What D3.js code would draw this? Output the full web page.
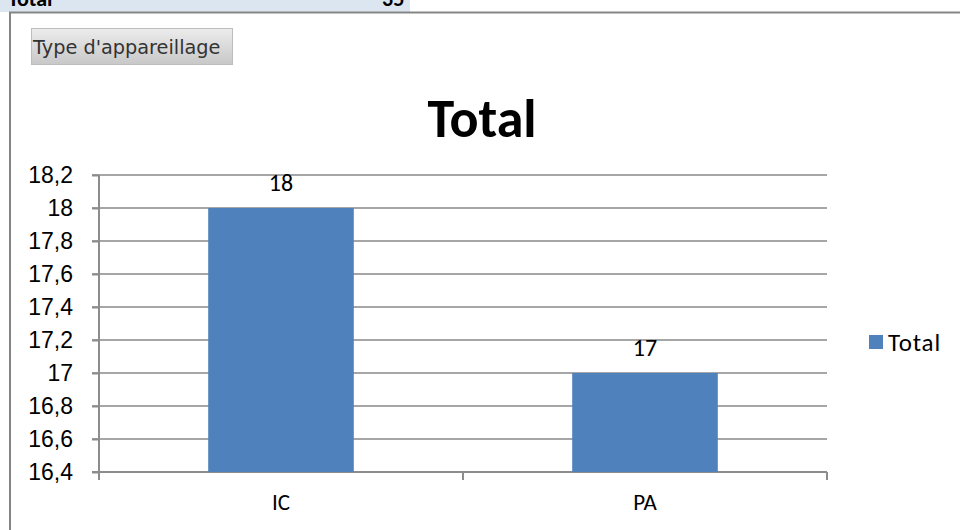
<!DOCTYPE html>
<html>
<head>
<meta charset="utf-8">
<script src="https://cdn.jsdelivr.net/npm/d3@7"></script>
<style>
  body { margin: 0; background: #fff; }
  svg { display: block; font-family: Carlito, Lato, "Liberation Sans", sans-serif; }
  .axis path, .axis line { stroke: #8c8c8c; }
  .grid line { stroke: #a6a6a6; }
</style>
</head>
<body>
<svg class="chart" width="960" height="530"></svg>
<script>
var categories = ["IC", "PA"];
var values = [18, 17];
var yTicks = [16.4, 16.6, 16.8, 17, 17.2, 17.4, 17.6, 17.8, 18, 18.2];
var seriesName = "Total";
var headerLabel = "Total";
var headerValue = "35";
var buttonLabel = "Type d'appareillage";

var svg = d3.select("svg.chart"),
    margin = {top: 175, right: 133, bottom: 58, left: 99},
    width = 960 - margin.left - margin.right,
    height = 530 - margin.top - margin.bottom;

// pivot table header strip (cut at the top, as in the sheet)
svg.append("rect")
    .attr("x", 0).attr("y", 0)
    .attr("width", 410).attr("height", 12)
    .attr("fill", "#dce6f1");
svg.append("text")
    .attr("x", 8).attr("y", 6)
    .style("font-weight", "bold")
    .style("font-size", "22px")
    .text(headerLabel);
svg.append("text")
    .attr("x", 382).attr("y", 6)
    .style("font-weight", "bold")
    .style("font-size", "22px")
    .text(headerValue);

// chart area border
svg.append("line")
    .attr("x1", 9).attr("x2", 960).attr("y1", 12.5).attr("y2", 12.5)
    .attr("stroke", "#858585").attr("stroke-width", 2);
svg.append("line")
    .attr("x1", 10).attr("x2", 10).attr("y1", 12).attr("y2", 530)
    .attr("stroke", "#858585").attr("stroke-width", 2);

// field button
var grad = svg.append("defs").append("linearGradient")
    .attr("id", "btn").attr("x1", 0).attr("x2", 0).attr("y1", 0).attr("y2", 1);
grad.append("stop").attr("offset", "0%").attr("stop-color", "#ececec");
grad.append("stop").attr("offset", "100%").attr("stop-color", "#c8c8c8");
svg.append("rect")
    .attr("x", 31.5).attr("y", 28.5)
    .attr("width", 201).attr("height", 36)
    .attr("fill", "url(#btn)")
    .attr("stroke", "#bdbdbd");
svg.append("text")
    .attr("x", 33).attr("y", 47)
    .attr("dy", "0.35em")
    .style("font-family", "'DejaVu Sans', sans-serif")
    .style("font-size", "19.3px")
    .attr("fill", "#333")
    .text(buttonLabel);

// title
svg.append("text")
    .attr("x", 482).attr("y", 118)
    .attr("text-anchor", "middle")
    .attr("dy", "0.35em")
    .style("font-weight", "bold")
    .style("font-size", "54px")
    .text(seriesName);

var g = svg.append("g").attr("transform", "translate(" + margin.left + "," + margin.top + ")");

var x = d3.scaleBand()
    .domain(categories)
    .range([0, width])
    .paddingInner(0.6)
    .paddingOuter(0.3);

var y = d3.scaleLinear()
    .domain([d3.min(yTicks), d3.max(yTicks)])
    .range([height, 0]);

var fmt = function (d) { return d3.format("")(+d.toFixed(1)).replace(".", ","); };

g.append("g")
    .attr("class", "grid")
    .selectAll("line")
    .data(yTicks)
    .enter().append("line")
      .attr("x1", -7).attr("x2", width)
      .attr("y1", function (d) { return y(d); })
      .attr("y2", function (d) { return y(d); })
      .attr("stroke-width", 2);

var yAxis = g.append("g")
    .attr("class", "axis axis--y")
    .call(d3.axisLeft(y).tickValues(yTicks).tickFormat(fmt).tickSize(7).tickPadding(19));
yAxis.select(".domain").attr("stroke-width", 2).attr("d", "M0,0V" + (height + 8));
yAxis.selectAll("line").attr("stroke-width", 2);
yAxis.selectAll("text").style("font-size", "23px").attr("fill", "#000");

var catEdges = [0, width / 2, width];
var xAxis = g.append("g")
    .attr("class", "axis axis--x")
    .attr("transform", "translate(0," + height + ")");
xAxis.append("line")
    .attr("x1", -7).attr("x2", width)
    .attr("stroke-width", 2);
xAxis.selectAll(".tick")
    .data(catEdges)
    .enter().append("line")
      .attr("x1", function (d) { return d; })
      .attr("x2", function (d) { return d; })
      .attr("y1", 0).attr("y2", 8)
      .attr("stroke-width", 2);
xAxis.selectAll(".lbl")
    .data(categories)
    .enter().append("text")
      .attr("x", function (d) { return x(d) + x.bandwidth() / 2; })
      .attr("y", 30)
      .attr("dy", "0.35em")
      .attr("text-anchor", "middle")
      .style("font-size", "23px")
      .text(function (d) { return d; });

g.selectAll(".bar")
    .data(categories)
    .enter().append("rect")
      .attr("class", "bar")
      .attr("x", function (d) { return x(d); })
      .attr("width", x.bandwidth())
      .attr("y", function (d, i) { return y(values[i]); })
      .attr("height", function (d, i) { return height - y(values[i]); })
      .attr("fill", "#4f81bd");

g.selectAll(".val")
    .data(categories)
    .enter().append("text")
      .attr("x", function (d) { return x(d) + x.bandwidth() / 2; })
      .attr("y", function (d, i) { return y(values[i]) - 25; })
      .attr("dy", "0.35em")
      .attr("text-anchor", "middle")
      .style("font-size", "24px")
      .text(function (d, i) { return values[i]; });

// legend
var legend = svg.append("g").attr("transform", "translate(869,335)");
legend.append("rect")
    .attr("width", 14).attr("height", 14)
    .attr("fill", "#4f81bd");
legend.append("text")
    .attr("x", 19).attr("y", 7)
    .attr("dy", "0.35em")
    .style("font-size", "25px")
    .style("letter-spacing", "0.8px")
    .text(seriesName);
</script>
</body>
</html>
